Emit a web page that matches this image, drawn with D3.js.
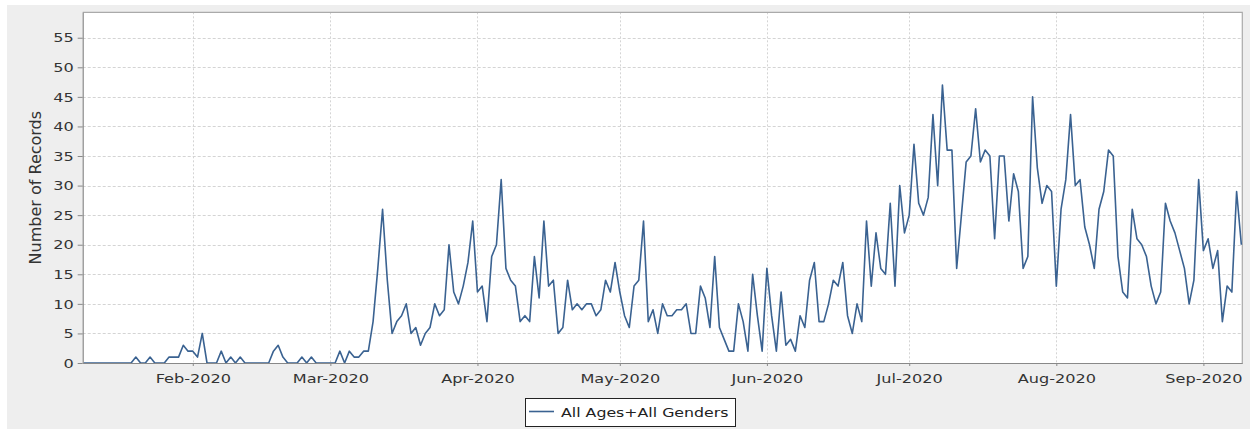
<!DOCTYPE html>
<html>
<head>
<meta charset="utf-8">
<script src="https://cdn.jsdelivr.net/npm/d3@7"></script>
<style>
  html, body { margin: 0; padding: 0; background: #ffffff; }
  svg { display: block; }
  text { font-family: "DejaVu Sans", sans-serif; }
</style>
</head>
<body>
<svg id="chart" width="1250" height="430"></svg>
<script>
// ---- data (daily counts, starting 2020-01-09) ----
const startDate = "2020-01-09";
const jan = [0,0,0,0,0,0,0,0,0,0,0,1,0,0,1,0,0,0,1,1,1,3,2];
const feb = [2,1,5,0,0,0,2,0,1,0,1,0,0,0,0,0,0,2,3,1,0,0,0,1,0,1,0,0,0];
const mar = [0,0,2,0,2,1,1,2,2,7,16,26,14,5,7,8,10,5,6,3,5,6,10,8,9,20,12,10,13,17,24];
const apr = [12,13,7,18,20,31,16,14,13,7,8,7,18,11,24,13,14,5,6,14,9,10,9,10,10,8,9,14,12,17];
const may = [12,8,6,13,14,24,7,9,5,10,8,8,9,9,10,5,5,13,11,6,18,6,4,2,2,10,7,2,15,8,2];
const jun = [16,8,2,12,3,4,2,8,6,14,17,7,7,10,14,13,17,8,5,10,7,24,13,22,16,15,27,13,30,22];
const jul = [25,37,27,25,28,42,30,47,36,36,16,25,34,35,43,34,36,35,21,35,35,24,32,29,16,18,45,33,27,30,29];
const aug = [13,26,31,42,30,31,23,20,16,26,29,36,35,18,12,11,26,21,20,18,13,10,12,27,24,22,19,16,10,14,31];
const sep = [19,21,16,19,7,13,12,29,20];

const seriesName = "All Ages+All Genders";
const yLabel = "Number of Records";
const xTickDates = ["2020-02-01","2020-03-01","2020-04-01","2020-05-01","2020-06-01","2020-07-01","2020-08-01","2020-09-01"];
const xTickLabels = ["Feb-2020","Mar-2020","Apr-2020","May-2020","Jun-2020","Jul-2020","Aug-2020","Sep-2020"];
const yTicks = [0,5,10,15,20,25,30,35,40,45,50,55];

// ---- build series ----
const counts = [].concat(jan, feb, mar, apr, may, jun, jul, aug, sep);
const t0 = new Date(startDate + "T00:00:00Z");
const data = counts.map((v, i) => ({ date: d3.utcDay.offset(t0, i), value: v }));

// ---- layout ----
const svg = d3.select("#chart");
const plot = { left: 82.7, right: 1242.3, top: 12.3, bottom: 363 };
const SX = 1.24; // horizontal glyph stretch of the reference rendering

svg.append("rect").attr("x", 7).attr("y", 5).attr("width", 1243).attr("height", 424).attr("fill", "#eeeeee");

const pad = 0.2 * 864e5;
const x = d3.scaleUtc()
  .domain([new Date(data[0].date.getTime() - pad), new Date(data[data.length - 1].date.getTime() + pad)])
  .range([plot.left, plot.right]);
const y = d3.scaleLinear().domain([0, 59.3]).range([plot.bottom, plot.top]);

// plot background
svg.append("rect")
  .attr("x", plot.left).attr("y", plot.top)
  .attr("width", plot.right - plot.left).attr("height", plot.bottom - plot.top)
  .attr("fill", "#ffffff");

// gridlines
const tickDates = xTickDates.map(s => new Date(s + "T00:00:00Z"));
svg.append("g").selectAll("line").data(yTicks.filter(v => v > 0)).join("line")
  .attr("x1", plot.left).attr("x2", plot.right)
  .attr("y1", d => Math.round(y(d)) + 0.5).attr("y2", d => Math.round(y(d)) + 0.5)
  .attr("stroke", "#d4d4d4").attr("stroke-width", 1).attr("stroke-dasharray", "3,2");
svg.append("g").selectAll("line").data(tickDates).join("line")
  .attr("x1", d => Math.round(x(d)) + 0.5).attr("x2", d => Math.round(x(d)) + 0.5)
  .attr("y1", plot.top).attr("y2", plot.bottom)
  .attr("stroke", "#d4d4d4").attr("stroke-width", 1).attr("stroke-dasharray", "2,2");

// outline (top & right)
svg.append("path")
  .attr("d", `M${plot.left},${plot.top}H${plot.right}V${plot.bottom}`)
  .attr("fill", "none").attr("stroke", "#aaaaaa").attr("stroke-width", 1.2);

// line
const line = d3.line().x(d => x(d.date)).y(d => y(d.value));
svg.append("path").datum(data)
  .attr("d", line)
  .attr("fill", "none").attr("stroke", "#3a6291").attr("stroke-width", 1.6)
  .attr("stroke-linejoin", "round");

// y axis
const yAxis = svg.append("g").attr("transform", `translate(${plot.left},0)`)
  .call(d3.axisLeft(y).tickValues(yTicks).tickSize(5).tickSizeOuter(0).tickPadding(4));
yAxis.select(".domain").attr("stroke", "#888888").attr("stroke-width", 1.2);
yAxis.selectAll(".tick line").attr("stroke", "#888888");
yAxis.selectAll(".tick text")
  .attr("font-family", "DejaVu Sans").attr("font-size", 13).attr("fill", "#333333")
  .attr("x", -9 / SX).attr("transform", `scale(${SX},1)`);

// x axis
const xAxis = svg.append("g").attr("transform", `translate(0,${plot.bottom})`)
  .call(d3.axisBottom(x).tickValues(tickDates).tickFormat((d, i) => xTickLabels[i]).tickSize(3).tickSizeOuter(0).tickPadding(8));
xAxis.select(".domain").attr("stroke", "#888888").attr("stroke-width", 1.2);
xAxis.selectAll(".tick line").attr("stroke", "#888888");
xAxis.selectAll(".tick text")
  .attr("font-family", "DejaVu Sans").attr("font-size", 13).attr("fill", "#333333")
  .attr("transform", `scale(${SX},1)`);

// y label
svg.append("text")
  .attr("transform", `translate(41,${(plot.top + plot.bottom) / 2}) rotate(-90)`)
  .attr("text-anchor", "middle")
  .attr("font-size", 16).attr("fill", "#333333")
  .text(yLabel);

// legend
const lg = svg.append("g");
lg.append("rect").attr("x", 525.5).attr("y", 398.5).attr("width", 210).attr("height", 28)
  .attr("fill", "#ffffff").attr("stroke", "#222222").attr("stroke-width", 1);
lg.append("line").attr("x1", 529).attr("x2", 554).attr("y1", 411.5).attr("y2", 411.5)
  .attr("stroke", "#3a6291").attr("stroke-width", 1.6);
lg.append("text")
  .attr("transform", `translate(561,417) scale(${SX * 0.98},1)`)
  .attr("font-size", 13).attr("fill", "#222222")
  .text(seriesName);
</script>
</body>
</html>
